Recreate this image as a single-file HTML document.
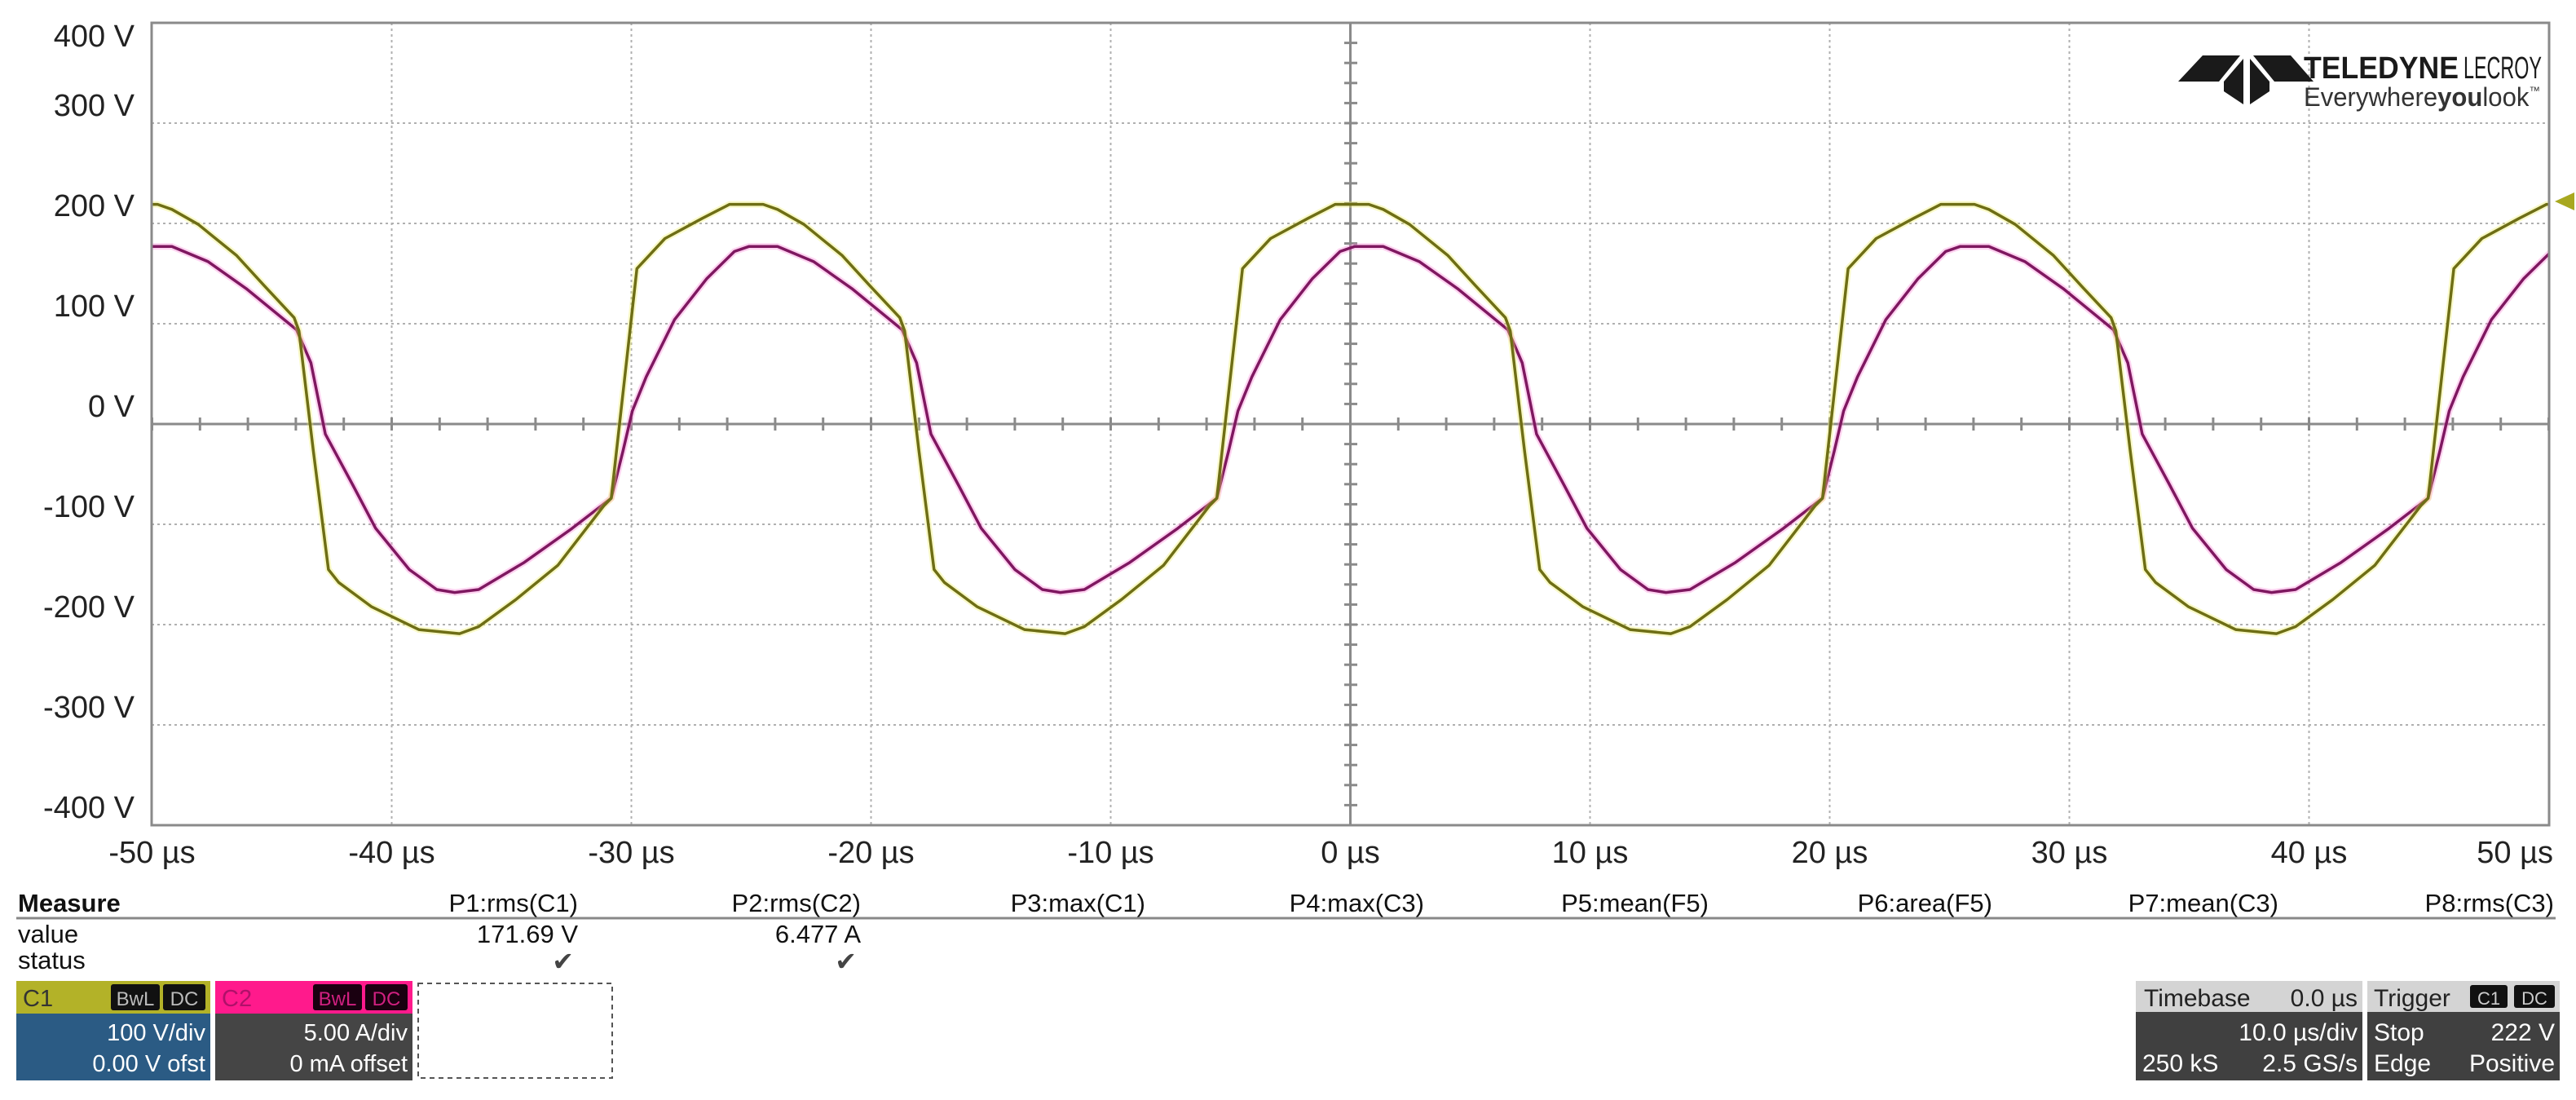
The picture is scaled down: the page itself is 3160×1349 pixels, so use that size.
<!DOCTYPE html>
<html><head><meta charset="utf-8"><title>Oscilloscope capture</title>
<style>
body{margin:0;background:#fff;}
svg{display:block;font-family:"Liberation Sans",Arial,sans-serif;}
</style></head>
<body>
<svg id="scope" width="3160" height="1349" viewBox="0 0 3160 1349" xmlns="http://www.w3.org/2000/svg">
<defs><clipPath id="plotclip"><rect x="186" y="28" width="2941" height="984"/></clipPath></defs>
<rect width="3160" height="1349" fill="#fff"/>
<g id="grid"></g>
<g id="traces" clip-path="url(#plotclip)"></g>
<rect x="186" y="28" width="2941" height="984" fill="none" stroke="#8a8a8a" stroke-width="3"/>
<g id="ylabels" font-size="38" fill="#222" text-anchor="end"></g>
<g id="xlabels" font-size="38" fill="#222" text-anchor="middle"></g>
<polygon points="3158,236 3158,258 3134,247" fill="#a8a820"/>

<g>
  <polygon points="2672,100 2702,68 2748,68 2722,100" fill="#1a1a1a"/>
  <polygon points="2764,68 2810,68 2838,100 2790,100" fill="#1a1a1a"/>
  <polygon points="2728,100 2752,72 2752,128 2728,112" fill="#1a1a1a"/>
  <polygon points="2760,72 2784,100 2784,112 2760,128" fill="#1a1a1a"/>
  <text x="2826" y="96" font-size="38" font-weight="bold" fill="#1a1a1a" textLength="190" lengthAdjust="spacingAndGlyphs">TELEDYNE</text>
  <text x="3022" y="96" font-size="38" fill="#1a1a1a" textLength="96" lengthAdjust="spacingAndGlyphs">LECROY</text>
  <text x="2826" y="130" font-size="32" fill="#333" textLength="290" lengthAdjust="spacingAndGlyphs">Everywhere<tspan font-weight="bold">you</tspan>look<tspan font-size="14" dy="-14">™</tspan></text>
</g>

<g font-size="31" fill="#111">
  <text x="22" y="1118" font-weight="bold">Measure</text>
  <line x1="20" y1="1126" x2="3135" y2="1126" stroke="#888" stroke-width="3"/>
  <text x="22" y="1156">value</text>
  <text x="22" y="1188">status</text>
  <g text-anchor="end">
    <text x="709" y="1118">P1:rms(C1)</text>
    <text x="1056" y="1118">P2:rms(C2)</text>
    <text x="1405" y="1118">P3:max(C1)</text>
    <text x="1747" y="1118">P4:max(C3)</text>
    <text x="2096" y="1118">P5:mean(F5)</text>
    <text x="2444" y="1118">P6:area(F5)</text>
    <text x="2795" y="1118">P7:mean(C3)</text>
    <text x="3133" y="1118">P8:rms(C3)</text>
    <text x="709" y="1156">171.69 V</text>
    <text x="1056" y="1156">6.477 A</text>
    <text x="704" y="1190" font-size="32" fill="#444">✔</text>
    <text x="1051" y="1190" font-size="32" fill="#444">✔</text>
  </g>
</g>

<g font-size="29">
  <rect x="20" y="1203" width="238" height="122" fill="#2b5b84"/>
  <rect x="20" y="1203" width="238" height="40" fill="#b3b228"/>
  <text x="28" y="1234" fill="#333">C1</text>
  <rect x="136" y="1207" width="60" height="32" rx="3" fill="#111"/>
  <text x="166" y="1233" fill="#bbb" font-size="24" text-anchor="middle">BwL</text>
  <rect x="200" y="1207" width="52" height="32" rx="3" fill="#111"/>
  <text x="226" y="1233" fill="#bbb" font-size="24" text-anchor="middle">DC</text>
  <text x="252" y="1276" fill="#fff" text-anchor="end">100 V/div</text>
  <text x="252" y="1314" fill="#fff" text-anchor="end">0.00 V ofst</text>
</g>
<g font-size="29">
  <rect x="264" y="1203" width="242" height="122" fill="#454545"/>
  <rect x="264" y="1203" width="242" height="40" fill="#ff1a8c"/>
  <text x="272" y="1234" fill="#b0106a">C2</text>
  <rect x="384" y="1207" width="60" height="32" rx="3" fill="#1a0010"/>
  <text x="414" y="1233" fill="#d02080" font-size="24" text-anchor="middle">BwL</text>
  <rect x="448" y="1207" width="52" height="32" rx="3" fill="#1a0010"/>
  <text x="474" y="1233" fill="#d02080" font-size="24" text-anchor="middle">DC</text>
  <text x="500" y="1276" fill="#fff" text-anchor="end">5.00 A/div</text>
  <text x="500" y="1314" fill="#fff" text-anchor="end">0 mA offset</text>
</g>
<rect x="513" y="1206" width="238" height="116" fill="none" stroke="#555" stroke-width="2" stroke-dasharray="6,5"/>

<g font-size="30">
  <rect x="2620" y="1203" width="278" height="122" fill="#404040"/>
  <rect x="2620" y="1203" width="278" height="38" fill="#d4d4d4"/>
  <text x="2630" y="1234" fill="#222">Timebase</text>
  <text x="2892" y="1234" fill="#222" text-anchor="end">0.0 µs</text>
  <text x="2892" y="1276" fill="#fff" text-anchor="end">10.0 µs/div</text>
  <text x="2628" y="1314" fill="#fff">250 kS</text>
  <text x="2892" y="1314" fill="#fff" text-anchor="end">2.5 GS/s</text>
</g>
<g font-size="30">
  <rect x="2904" y="1203" width="236" height="122" fill="#404040"/>
  <rect x="2904" y="1203" width="236" height="38" fill="#d4d4d4"/>
  <text x="2912" y="1234" fill="#222">Trigger</text>
  <rect x="3030" y="1208" width="46" height="28" rx="3" fill="#111"/>
  <text x="3053" y="1232" fill="#ccc" font-size="22" text-anchor="middle">C1</text>
  <rect x="3084" y="1208" width="50" height="28" rx="3" fill="#111"/>
  <text x="3109" y="1232" fill="#ccc" font-size="22" text-anchor="middle">DC</text>
  <text x="2912" y="1276" fill="#fff">Stop</text>
  <text x="3134" y="1276" fill="#fff" text-anchor="end">222 V</text>
  <text x="2912" y="1314" fill="#fff">Edge</text>
  <text x="3134" y="1314" fill="#fff" text-anchor="end">Positive</text>
</g>
</svg>
<script>
// ---- data ----
const xTicks = [-50,-40,-30,-20,-10,0,10,20,30,40,50];
const xTickLabels = ["-50 µs","-40 µs","-30 µs","-20 µs","-10 µs","0 µs","10 µs","20 µs","30 µs","40 µs","50 µs"];
const yTicks = [400,300,200,100,0,-100,-200,-300,-400];
const yTickLabels = ["400 V","300 V","200 V","100 V","0 V","-100 V","-200 V","-300 V","-400 V"];
const periodUs = 25.27;
const firstEdgeUs = -30.84;
// one period of C1 (phase in µs from rising edge, volts)
const c1Phase = [0,1.07,2.24,3.79,4.94,6.34,6.94,8.04,9.64,10.79,12.04,12.24,12.84,13.47,13.9,15.26,17.24,18.94,19.74,21.29,23.04,24.98];
const c1Volts = [-74,155,185,205,219,219,214,199,168,138,106,93,-27,-145,-158,-182,-205,-209,-202,-175,-141,-81];
// one period of C2 (displayed in V-equivalent)
const c2Phase = [0,0.49,0.88,1.46,2.64,3.99,5.14,5.74,6.94,8.44,10.04,12.14,12.74,13.34,14.49,15.44,16.84,17.99,18.74,19.74,21.64,23.64];
const c2Volts = [-74,-27,13,47,104,145,172,177,177,162,135,94,61,-10,-61,-104,-145,-165,-168,-165,-138,-104];

// ---- axes ----
const X = t => 1656.5 + t*29.4;
const Y = v => 520 - v*1.23;
const NS = "http://www.w3.org/2000/svg";
function mk(tag, parent){const e=document.createElementNS(NS,tag);parent.appendChild(e);return e;}

const grid = document.getElementById('grid');
xTicks.forEach(t=>{
  if(t===-50||t===50) return;
  const l = mk('line',grid);
  
  
  l.setAttribute('x1',X(t));l.setAttribute('x2',X(t));l.setAttribute('y1',28);l.setAttribute('y2',1012);
  l.setAttribute('stroke', t===0?'#8a8a8a':'#b0b0b0');
  l.setAttribute('stroke-width', t===0?3:2);
  if(t!==0) l.setAttribute('stroke-dasharray','3,4');
});
yTicks.forEach(v=>{
  if(v===400||v===-400) return;
  const l = mk('line',grid);
  
  
  l.setAttribute('x1',186);l.setAttribute('x2',3127);l.setAttribute('y1',Y(v));l.setAttribute('y2',Y(v));
  l.setAttribute('stroke', v===0?'#8a8a8a':'#b0b0b0');
  l.setAttribute('stroke-width', v===0?3:2);
  if(v!==0) l.setAttribute('stroke-dasharray','3,4');
});
for(let t=-50;t<=50;t+=2){
  const l=mk('line',grid);
  
  
  l.setAttribute('x1',X(t));l.setAttribute('x2',X(t));l.setAttribute('y1',512);l.setAttribute('y2',528);
  l.setAttribute('stroke','#8a8a8a');l.setAttribute('stroke-width',3);
}
for(let v=-400;v<=400;v+=20){
  const l=mk('line',grid);
  
  
  l.setAttribute('x1',1649);l.setAttribute('x2',1665);l.setAttribute('y1',Y(v));l.setAttribute('y2',Y(v));
  l.setAttribute('stroke','#8a8a8a');l.setAttribute('stroke-width',3);
}

const yl=document.getElementById('ylabels');
yTicks.forEach((v,i)=>{
  const tx=mk('text',yl);
  
  
  tx.setAttribute('x',165);
  const cy = v===400 ? 44 : Y(v)-22;
  tx.setAttribute('y',cy+13);
  tx.textContent=yTickLabels[i];
});
const xl=document.getElementById('xlabels');
xTicks.forEach((t,i)=>{
  const tx=mk('text',xl);
  
  
  let x=X(t);
  if(t===50){x=3132;tx.setAttribute('text-anchor','end');}
  tx.setAttribute('x',x);tx.setAttribute('y',1058);
  tx.textContent=xTickLabels[i];
});

function buildPath(phase, volts){
  const pts=[];
  for(let k=-1;k<=3;k++){
    for(let i=0;i<phase.length;i++){
      const t=firstEdgeUs+k*periodUs+phase[i];
      if(t<-52||t>52) continue;
      pts.push(X(t).toFixed(1)+','+Y(volts[i]).toFixed(1));
    }
  }
  return 'M'+pts.join(' L');
}
const tr=document.getElementById('traces');
function drawTrace(name, phase, volts, halo, core){
  const d=buildPath(phase,volts);
  const h=mk('path',tr);
  
  
  h.setAttribute('d',d);h.setAttribute('fill','none');h.setAttribute('stroke',halo);
  h.setAttribute('stroke-width',8);h.setAttribute('stroke-linejoin','round');h.setAttribute('opacity','0.35');
  const c=mk('path',tr);
  
  
  c.setAttribute('d',d);c.setAttribute('fill','none');c.setAttribute('stroke',core);
  c.setAttribute('stroke-width',3.5);c.setAttribute('stroke-linejoin','round');
}
drawTrace('c2-trace', c2Phase, c2Volts, '#ff80d8', '#7e1860');
drawTrace('c1-trace', c1Phase, c1Volts, '#eeee60', '#6e6e16');
</script>
</body></html>
